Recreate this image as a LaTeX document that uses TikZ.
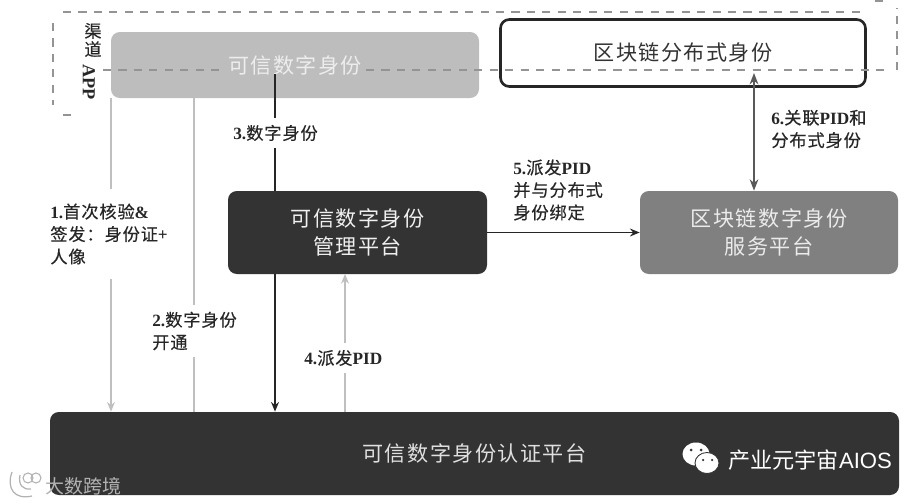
\documentclass[tikz,border=0pt]{standalone}
\usepackage{fontspec}
\setmainfont{Noto Sans CJK SC}
\newfontfamily\boxfont[LetterSpace=7]{Noto Sans CJK SC}
\newfontfamily\labelfont[LetterSpace=5,FakeBold=0.3]{Noto Sans CJK SC}
\newfontfamily\latfont{Liberation Serif}
\newfontfamily\markfont{Liberation Sans}
\newcommand{\lat}[1]{{\latfont\bfseries #1}}
\usepackage{tikz}
\usetikzlibrary{positioning,calc,arrows.meta}
\tikzset{
  plat/.style={rounded corners=5pt, inner sep=0pt, align=center, font=\boxfont\fontsize{12}{16}\selectfont},
  steplabel/.style={anchor=west, fill=white, inner xsep=0pt, inner ysep=4pt, align=left, text=black!85, font=\labelfont\fontsize{9.8}{12.8}\selectfont},
  paleline/.style={draw=black!25, line width=0.7pt},
  darkline/.style={draw=black!85, line width=0.9pt},
  channel/.style={draw=black!42, line width=0.75pt, dash pattern=on 4.6pt off 4.2pt},
  tip/.style={-{Stealth[length=5.5pt,width=4.5pt]}}
}

\begin{document}
\begin{tikzpicture}
  \useasboundingbox (0, 0) rectangle (18.44, 10.06);

  % Platform boxes
  \node[plat, fill=black!26, text=black!7, minimum width=7.36cm, minimum height=1.32cm] (tdi) at (5.90, 8.76) {可信数字身份};
  \node[plat, draw=black!85, line width=1.5pt, fill=white, text=black!80, minimum width=7.30cm, minimum height=1.34cm] (did) at (13.66, 9.00) {区块链分布式身份};
  \node[plat, fill=black!80, text=black!6, minimum width=5.18cm, minimum height=1.66cm] (mgmt) at (7.15, 5.41) {可信数字身份\\管理平台};
  \node[plat, fill=black!50, text=black!8, minimum width=5.16cm, minimum height=1.66cm] (svc) at (15.38, 5.41) {区块链数字身份\\服务平台};
  \node[plat, fill=black!80, text=black!12, minimum width=16.98cm, minimum height=1.66cm] (auth) at (9.49, 0.99) {可信数字身份认证平台};

  % Channel APP outline
  \coordinate (c1) at (1.26, 9.82);
  \coordinate (c2) at (17.32, 9.82);
  \coordinate (c3) at (1.06, 9.60);
  \coordinate (c4) at (1.06, 7.96);
  \coordinate (c5) at (1.26, 7.76);
  \coordinate (c6) at (1.52, 7.76);
  \coordinate (c7) at (2.06, 8.66);
  \coordinate (c8) at (4.40, 8.66);
  \coordinate (c9) at (7.32, 8.66);
  \coordinate (c10) at (17.76, 8.66);
  \coordinate (c11) at (17.94, 8.66);
  \coordinate (c12) at (17.94, 9.90);
  \coordinate (c13) at (17.50, 10.04);
  \coordinate (c14) at (17.76, 10.04);
  \draw[channel] (c1) -- (c2);
  \draw[channel] (c3) -- (c4);
  \draw[channel] (c5) -- (c6);
  \draw[channel] (c7) -- (c8);
  \draw[channel] (c9) -- (c10);
  \draw[channel] (c11) -- (c12);
  \draw[channel] (c13) -- (c14);
  \node[font=\labelfont\fontsize{9.8}{10.4}\selectfont, align=center, inner sep=0pt, text=black!85] (chan) at (1.86, 9.26) {渠\\道};
  \node[font=\latfont\bfseries\fontsize{10.4}{10}\selectfont, rotate=-90, inner sep=0pt, text=black!85] (app) at (1.78, 8.42) {APP};

  % Connectors
  \coordinate (b1) at (2.22, 8.10);
  \coordinate (b2) at (3.88, 8.10);
  \coordinate (b3) at (5.50, 8.58);
  \coordinate (b4) at (6.90, 4.58);
  \coordinate (b6) at (15.08, 8.60);
  \draw[paleline, tip] (b1) -- (b1 |- auth.north);
  \draw[paleline] (b2) -- (b2 |- auth.north);
  \draw[darkline] (b3) -- (b3 |- mgmt.north);
  \draw[darkline, tip] (b3 |- mgmt.south) -- (b3 |- auth.north);
  \draw[paleline, tip] (b4 |- auth.north) -- (b4);
  \draw[darkline, tip] (mgmt.east) -- (svc.west);
  \draw[draw=black!65, line width=0.9pt, {Stealth[length=6.5pt,width=5pt]}-{Stealth[length=6.5pt,width=5pt]}] (b6) -- (b6 |- svc.north);

  % Step labels
  \node[steplabel, inner ysep=8pt] (l1) at (1.00, 5.38) {\lat{1.}首次核验\lat{\&}\\签发：身份证\lat{+}\\人像};
  \node[steplabel] (l2) at (3.04, 3.44) {\lat{2.}数字身份\\开通};
  \node[steplabel] (l3) at (4.66, 7.40) {\lat{3.}数字身份};
  \node[steplabel] (l4) at (6.08, 2.90) {\lat{4.}派发\lat{PID}};
  \node[steplabel] (l5) at (10.26, 6.26) {\lat{5.}派发\lat{PID}\\并与分布式\\身份绑定};
  \node[steplabel] (l6) at (15.42, 7.48) {\lat{6.}关联\lat{PID}和\\分布式身份};

  % Account mark
  \fill[white] (13.92, 0.98) ellipse (0.27 and 0.23);
  \draw[fill=white, draw=black!80, line width=0.5pt] (14.14, 0.80) ellipse (0.24 and 0.21);
  \fill[black!80] (13.82, 1.06) circle (0.03);
  \fill[black!80] (14.02, 1.06) circle (0.03);
  \fill[black!80] (14.06, 0.86) circle (0.025);
  \fill[black!80] (14.24, 0.86) circle (0.025);
  \node[anchor=west, inner sep=0pt, text=white, font=\fontsize{12.6}{14}\selectfont] (acct) at (14.56, 0.86) {产业元宇宙{\markfont AIOS}};

  % Corner mark
  \draw[black!30, line width=0.7pt] (0.24, 0.62) .. controls (0.12, 0.28) and (0.30, 0.06) .. (0.64, 0.14);
  \draw[black!30, line width=0.7pt] (0.40, 0.56) .. controls (0.36, 0.36) and (0.46, 0.26) .. (0.62, 0.28);
  \draw[black!30, line width=0.6pt] (0.56, 0.50) circle (0.10);
  \draw[black!30, line width=0.6pt] (0.72, 0.50) circle (0.10);
  \node[anchor=west, inner sep=0pt, text=black!30, font=\fontsize{10.8}{12}\selectfont] (corner) at (0.90, 0.34) {大数跨境};
\end{tikzpicture}
\end{document}
